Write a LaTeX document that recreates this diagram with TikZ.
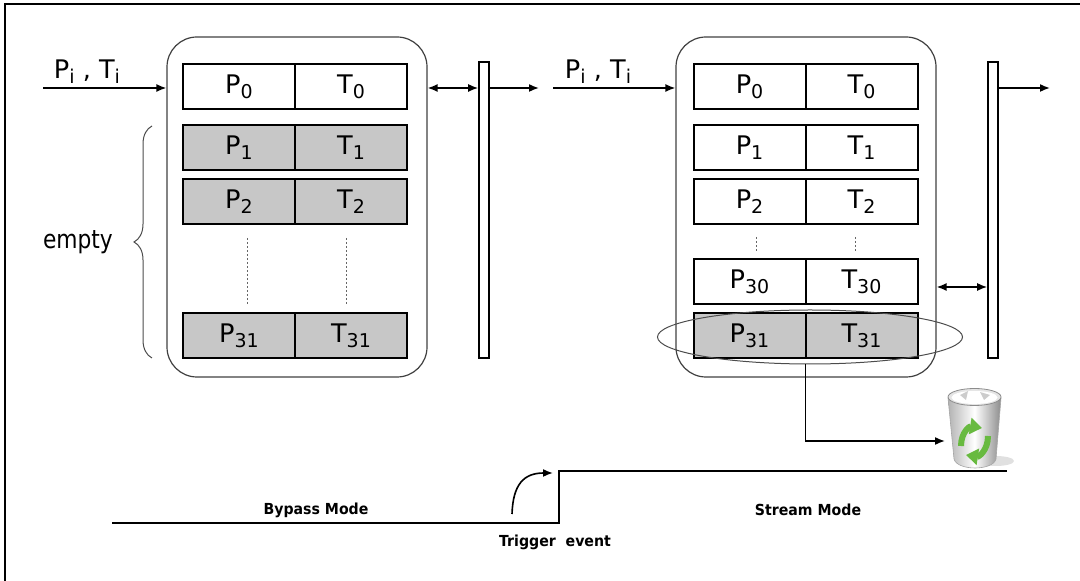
\documentclass[tikz,border=0pt]{standalone}
\usepackage{fontspec}
\setmainfont{DejaVu Sans}
\newfontfamily\schmalfont[FakeStretch=0.85]{DejaVu Sans}
\newfontfamily\modusfont[FakeStretch=0.93]{DejaVu Sans}
\usetikzlibrary{arrows.meta,positioning,shapes.geometric,decorations.pathreplacing}
\newcommand{\tief}[1]{\raisebox{-2.6pt}{\fontsize{9.5pt}{10pt}\selectfont #1}}
\definecolor{recgruen}{RGB}{104,186,64}
\begin{document}
\begin{tikzpicture}[
      x=0.5pt, y=-0.5pt,
      schrift/.style={font=\fontsize{12.8pt}{14pt}\selectfont},
      zelle/.style={rectangle, draw, line width=1pt, outer sep=0pt,
        inner sep=0pt, minimum width=56pt, minimum height=22.5pt, schrift},
      voll/.style={zelle, fill=black!22},
      puffer/.style={rectangle, rounded corners=15pt, draw=black!75,
        line width=0.6pt, minimum width=130pt, minimum height=170pt},
      balken/.style={rectangle, draw, line width=0.8pt, inner sep=0pt,
        minimum width=5pt, minimum height=148pt},
      pfeil/.style={line width=0.8pt, -{Latex[length=5pt,width=4pt]}},
      dpfeil/.style={line width=0.8pt,
        {Latex[length=5pt,width=4pt]}-{Latex[length=5pt,width=4pt]}},
      punkte/.style={black!60, line width=0.5pt, dash pattern=on 1pt off 1pt},
      linie/.style={line width=1pt},
      marke/.style={font=\modusfont\bfseries\fontsize{7.6pt}{9pt}\selectfont}
    ]
    \useasboundingbox (0,0) rectangle (1080,581);
    \draw[linie] (5,581) -- (5,4) -- (1080,4);
    % left: bypass mode
    \path (297,207) node(lpuf) [puffer] {}
    (484,210) node(lbal) [balken] {};
    \path (239,86.5) node(lp0) [zelle] {P\tief{0}}
    node(lt0) [zelle, right=0pt of lp0] {T\tief{0}};
    \path (239,148) node(lp1) [voll] {P\tief{1}}
    node(lt1) [voll, right=0pt of lp1] {T\tief{1}};
    \path (239,201.5) node(lp2) [voll] {P\tief{2}}
    node(lt2) [voll, right=0pt of lp2] {T\tief{2}};
    \path (239,335.5) node(lp31) [voll] {P\tief{31}}
    node(lt31) [voll, right=0pt of lp31] {T\tief{31}};
    \draw[punkte] (247,238) -- (247,306);
    \draw[punkte] (346,238) -- (346,306);
    \node[schrift] (lpt) at (87,72) {P\tief{i} , T\tief{i}};
    \coordinate (lein) at (43,88);
    \coordinate (laus) at (539,88);
    \draw[pfeil] (lein) -- (lein -| lpuf.west);
    \draw[dpfeil] (lpuf.east |- lein) -- (lbal.west |- lein);
    \draw[pfeil] (lbal.east |- lein) -- (laus);
    \draw[black!70, line width=0.5pt, decorate,
      decoration={brace, amplitude=9pt}] (152,358) -- (152,126)
      node[midway, left=16pt, text=black,
        font=\schmalfont\fontsize{12.8pt}{14pt}\selectfont] (leer) {empty};
    % right: stream mode
    \path (806,207) node(rpuf) [puffer] {}
    (993,210) node(rbal) [balken] {};
    \path (749.5,86.5) node(rp0) [zelle] {P\tief{0}}
    node(rt0) [zelle, right=0pt of rp0] {T\tief{0}};
    \path (749.5,148) node(rp1) [zelle] {P\tief{1}}
    node(rt1) [zelle, right=0pt of rp1] {T\tief{1}};
    \path (749.5,201.5) node(rp2) [zelle] {P\tief{2}}
    node(rt2) [zelle, right=0pt of rp2] {T\tief{2}};
    \path (749.5,282) node(rp30) [zelle] {P\tief{30}}
    node(rt30) [zelle, right=0pt of rp30] {T\tief{30}};
    \path (749.5,335.5) node(rp31) [voll] {P\tief{31}}
    node(rt31) [voll, right=0pt of rp31] {T\tief{31}};
    \draw[punkte] (756,237) -- (756,251);
    \draw[punkte] (855,237) -- (855,251);
    \node[ellipse, draw=black!70, line width=0.5pt, minimum width=152.5pt,
      minimum height=27pt] (wahl) at (810,337) {};
    \node[schrift] (rpt) at (598,72) {P\tief{i} , T\tief{i}};
    \coordinate (rein) at (553,88);
    \coordinate (raus) at (1050,88);
    \coordinate (rueck) at (960,287);
    \draw[pfeil] (rein) -- (rein -| rpuf.west);
    \draw[pfeil] (rbal.east |- rein) -- (raus);
    \draw[dpfeil] (rpuf.east |- rueck) -- (rbal.west |- rueck);
    % trash
    \coordinate (eimer) at (945,441);
    \draw[pfeil] (wahl.south -| rt31.south west) |- (eimer);
    \fill[black!12] (996,461) ellipse [x radius=18, y radius=5];
    \shadedraw[left color=black!30, right color=black!45, middle color=white,
      draw=black!35, line width=0.3pt]
      (948,398) -- (954,459) .. controls (957,471) and (993,471) .. (996,459)
      -- (1001,398) -- cycle;
    \filldraw[fill=black!10, draw=black!45, line width=0.4pt]
      (974.5,397) ellipse [x radius=26.5, y radius=8.5];
    \fill[white] (974.5,397.5) ellipse [x radius=23, y radius=6.5];
    \fill[black!20] (960,395) -- (968,391) -- (966,400) -- cycle;
    \fill[black!20] (980,392) -- (990,395) -- (984,400) -- cycle;
    \draw[recgruen, line width=3pt, -{Triangle[length=6pt,width=8pt]}]
      (961,446) .. controls (961,432) and (970,426) .. (982,428);
    \draw[recgruen, line width=3pt, -{Triangle[length=6pt,width=8pt]}]
      (988,436) .. controls (988,450) and (979,457) .. (966,455);
    % mode line
    \draw[linie] (112,523) -- (559,523) -- (559,471) -- (1007,471);
    \node[marke] (byp) at (316,510) {Bypass Mode};
    \node[marke] (str) at (808,510) {Stream Mode};
    \node[marke] (trig) at (555,542) {Trigger\ \ event};
    \coordinate (kurvea) at (512,514);
    \coordinate (kurveb) at (553,473);
    \draw[pfeil] (kurvea) .. controls (513,484) and (524,473) .. (kurveb);
  \end{tikzpicture}
\end{document}
